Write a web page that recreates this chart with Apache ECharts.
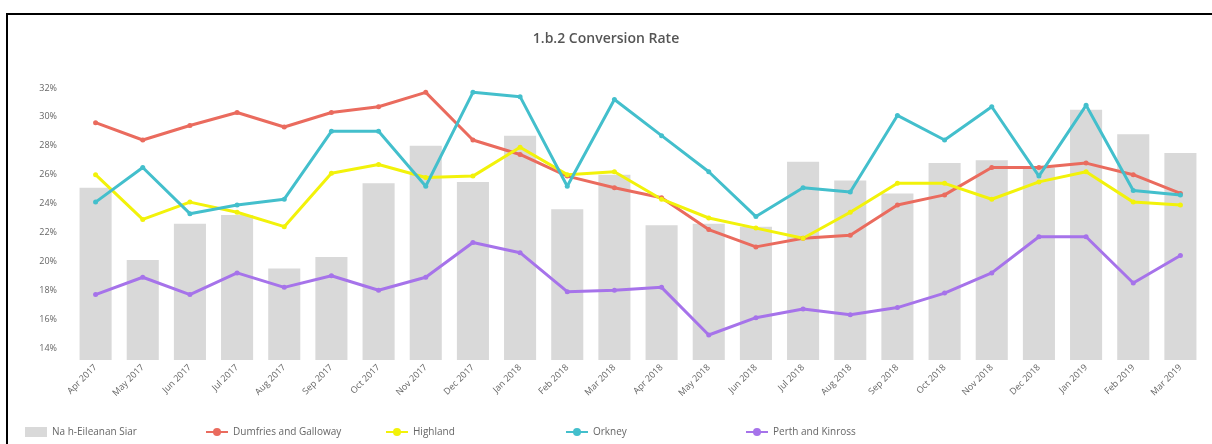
<!DOCTYPE html>
<html>
<head>
<meta charset="utf-8">
<title>1.b.2 Conversion Rate</title>
<script src="https://cdn.jsdelivr.net/npm/echarts@6/dist/echarts.min.js"></script>
<style>
  html, body { margin: 0; padding: 0; background: #fff; }
  #chart { width: 1212px; height: 444px; }
</style>
</head>
<body>
<div id="chart"></div>
<script>
var months = ['Apr 2017', 'May 2017', 'Jun 2017', 'Jul 2017', 'Aug 2017', 'Sep 2017',
              'Oct 2017', 'Nov 2017', 'Dec 2017', 'Jan 2018', 'Feb 2018', 'Mar 2018',
              'Apr 2018', 'May 2018', 'Jun 2018', 'Jul 2018', 'Aug 2018', 'Sep 2018',
              'Oct 2018', 'Nov 2018', 'Dec 2018', 'Jan 2019', 'Feb 2019', 'Mar 2019'];

// conversion rate, %
var westernIsles = [25.1, 20.1, 22.6, 23.2, 19.5, 20.3, 25.4, 28.0, 25.5, 28.7, 23.6, 26.0,
                    22.5, 22.6, 22.4, 26.9, 25.6, 24.7, 26.8, 27.0, 26.5, 30.5, 28.8, 27.5];
var dumfries = [29.6, 28.4, 29.4, 30.3, 29.3, 30.3, 30.7, 31.7, 28.4, 27.4, 25.9, 25.1,
                24.4, 22.2, 21.0, 21.6, 21.8, 23.9, 24.6, 26.5, 26.5, 26.8, 26.0, 24.7];
var highland = [26.0, 22.9, 24.1, 23.4, 22.4, 26.1, 26.7, 25.8, 25.9, 27.9, 26.0, 26.2,
                24.3, 23.0, 22.3, 21.6, 23.4, 25.4, 25.4, 24.3, 25.5, 26.2, 24.1, 23.9];
var orkney = [24.1, 26.5, 23.3, 23.9, 24.3, 29.0, 29.0, 25.2, 31.7, 31.4, 25.2, 31.2,
              28.7, 26.2, 23.1, 25.1, 24.8, 30.1, 28.4, 30.7, 25.9, 30.8, 24.9, 24.6];
var perth = [17.7, 18.9, 17.7, 19.2, 18.2, 19.0, 18.0, 18.9, 21.3, 20.6, 17.9, 18.0,
             18.2, 14.9, 16.1, 16.7, 16.3, 16.8, 17.8, 19.2, 21.7, 21.7, 18.5, 20.4];
var seriesNames = ['Na h-Eileanan Siar', 'Dumfries and Galloway', 'Highland', 'Orkney', 'Perth and Kinross'];
var yTicks = [14, 16, 18, 20, 22, 24, 26, 28, 30, 32];

var chart = echarts.init(document.getElementById('chart'));

function lineSeries(name, data, color) {
  return {
    name: name,
    type: 'line',
    data: data,
    symbol: 'circle',
    symbolSize: 5,
    lineStyle: { width: 3, color: color },
    itemStyle: { color: color },
    z: 3
  };
}

// one legend per entry so the entries sit on a fixed 180px pitch
var legends = seriesNames.map(function (name, i) {
  return {
    left: 20 + i * 180,
    bottom: 2,
    itemWidth: 22,
    itemHeight: 10,
    textStyle: { fontSize: 10, color: '#666' },
    data: [i === 0 ? { name: name, icon: 'rect' } : name]
  };
});

var option = {
  animation: false,
  textStyle: { fontFamily: 'Open Sans, DejaVu Sans, sans-serif' },
  title: {
    text: '1.b.2 Conversion Rate',
    left: 'center',
    top: 27,
    textStyle: { fontSize: 14, fontWeight: 600, color: '#555' }
  },
  graphic: [{
    type: 'rect',
    shape: { x: 7, y: 14, width: 1215, height: 445 },
    style: { fill: 'none', stroke: '#000', lineWidth: 2 },
    silent: true
  }],
  legend: legends,
  grid: { left: 72, right: 8, top: 88, bottom: 84 },
  xAxis: {
    type: 'category',
    data: months,
    axisLine: { show: false },
    axisTick: { show: false },
    axisLabel: { rotate: 45, fontSize: 9, color: '#666', margin: 6, interval: 0 }
  },
  yAxis: {
    type: 'value',
    min: 13.17,
    max: 32,
    splitLine: { show: false },
    axisLine: { show: false },
    axisTick: { show: false },
    axisLabel: {
      customValues: yTicks,
      fontSize: 9,
      color: '#666',
      margin: 15,
      formatter: function (v) { return Math.round(v) + '%'; }
    }
  },
  series: [
    {
      name: seriesNames[0],
      type: 'bar',
      data: westernIsles,
      barCategoryGap: '32%',
      itemStyle: { color: '#d9d9d9' },
      z: 2
    },
    lineSeries(seriesNames[1], dumfries, '#ea6b5e'),
    lineSeries(seriesNames[2], highland, '#f2f20a'),
    lineSeries(seriesNames[3], orkney, '#43bfcc'),
    lineSeries(seriesNames[4], perth, '#a673ea')
  ]
};

chart.setOption(option);
</script>
</body>
</html>
